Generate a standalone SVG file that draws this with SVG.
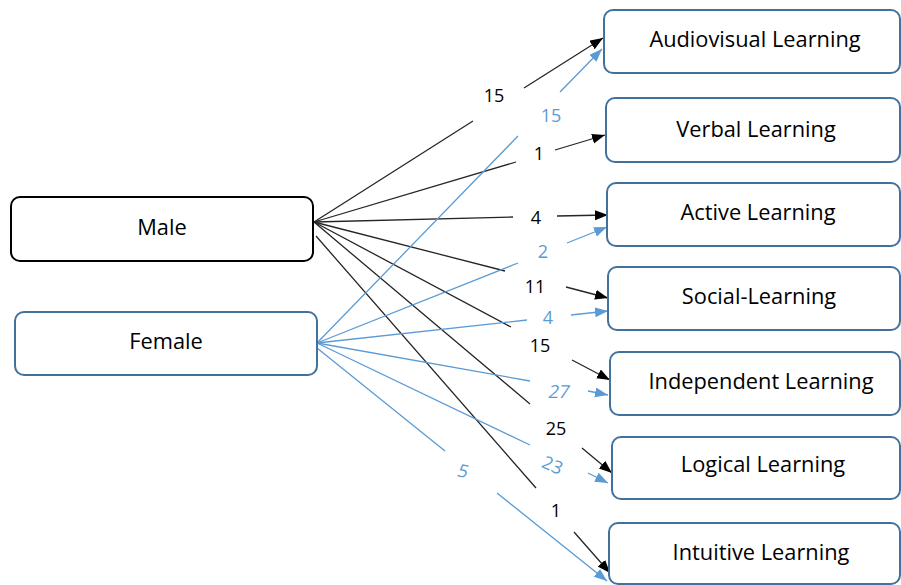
<svg xmlns="http://www.w3.org/2000/svg" width="901" height="585" viewBox="0 0 901 585">
<style>
.box{fill:#fff;stroke:#41719C;stroke-width:2}
.mbox{fill:#fff;stroke:#000;stroke-width:2}
.bt{font-family:"Open Sans","Liberation Sans",sans-serif;font-size:21.8px;fill:#000;text-anchor:middle}
.k{fill:none;stroke:#262626;stroke-width:1.3}
.b{fill:none;stroke:#5B9BD5;stroke-width:1.3}
.lk{font-family:"Open Sans","Liberation Sans",sans-serif;font-size:18px;fill:#000;text-anchor:middle}
.lb{font-family:"Open Sans","Liberation Sans",sans-serif;font-size:18px;fill:#5B9BD5;text-anchor:middle}
</style>
<defs>
<marker id="ak" markerUnits="userSpaceOnUse" markerWidth="14" markerHeight="12" refX="13" refY="5" orient="auto"><path d="M0,0 L13,5 L0,10 z" fill="#000"/></marker>
<marker id="ab" markerUnits="userSpaceOnUse" markerWidth="14" markerHeight="12" refX="13" refY="5" orient="auto"><path d="M0,0 L13,5 L0,10 z" fill="#5B9BD5"/></marker>
</defs>
<rect width="901" height="585" fill="#fff"/>
<g id="connectors">
<path class="k" marker-end="url(#ak)" d="M314,222 L473,121 M524,88 L603,38"/>
<path class="k" marker-end="url(#ak)" d="M314,222 L516,162 M555,150 L605,135"/>
<path class="k" marker-end="url(#ak)" d="M314,222 L513,217 M557,216 L608,215"/>
<path class="k" marker-end="url(#ak)" d="M314,222 L505,271 M566,287 L608,298"/>
<path class="k" marker-end="url(#ak)" d="M314,222 L511,327 M572,360 L610,380"/>
<path class="k" marker-end="url(#ak)" d="M314,222 L530,404 M582,448 L612,473"/>
<path class="k" marker-end="url(#ak)" d="M316,236 L536,488 M574,532 L610,573"/>
<path class="b" marker-end="url(#ab)" d="M317,343 L518,136 M560,92 L602,49"/>
<path class="b" marker-end="url(#ab)" d="M317,343 L518,263 M567,243 L607,227"/>
<path class="b" marker-end="url(#ab)" d="M317,343 L527,320 M571,315 L608,311"/>
<path class="b" marker-end="url(#ab)" d="M317,343 L530,381 M588,391 L608,395"/>
<path class="b" marker-end="url(#ab)" d="M317,343 L530,445 M588,473 L608,483"/>
<path class="b" marker-end="url(#ab)" d="M317,348 L445,451 M497,493 L607,581"/>
<text class="lk" x="494" y="102">15</text>
<text class="lb" x="551" y="122">15</text>
<text class="lk" x="539" y="160">1</text>
<text class="lk" x="536" y="224">4</text>
<text class="lb" x="543" y="258">2</text>
<text class="lk" x="535" y="293">11</text>
<text class="lb" x="548" y="324">4</text>
<text class="lk" x="540" y="352">15</text>
<text class="lb" transform="translate(558,398) skewX(-12)" x="0" y="0">27</text>
<text class="lk" x="556" y="435">25</text>
<text class="lb" transform="translate(550,471) rotate(24)" x="0" y="0">23</text>
<text class="lk" x="556" y="517">1</text>
<text class="lb" transform="translate(461,477) rotate(12) skewX(-8)" x="0" y="0">5</text>
</g>
<g id="male"><rect class="mbox" x="11" y="197" width="302" height="64" rx="9"/><text class="bt" x="162" y="235">Male</text></g>
<g id="female"><rect class="box" x="15" y="312" width="302" height="63" rx="9"/><text class="bt" x="166" y="349">Female</text></g>
<g id="audiovisual"><rect class="box" x="604" y="10" width="296" height="63" rx="9"/><text class="bt" x="755" y="47">Audiovisual Learning</text></g>
<g id="verbal"><rect class="box" x="606" y="98" width="294" height="64" rx="9"/><text class="bt" x="756" y="137">Verbal Learning</text></g>
<g id="active"><rect class="box" x="607" y="183" width="293" height="63" rx="9"/><text class="bt" x="758" y="220">Active Learning</text></g>
<g id="social"><rect class="box" x="608" y="267" width="292" height="63" rx="9"/><text class="bt" x="759" y="304">Social-Learning</text></g>
<g id="independent"><rect class="box" x="610" y="352" width="290" height="63" rx="9"/><text class="bt" x="761" y="389">Independent Learning</text></g>
<g id="logical"><rect class="box" x="612" y="437" width="288" height="62" rx="9"/><text class="bt" x="763" y="472">Logical Learning</text></g>
<g id="intuitive"><rect class="box" x="609" y="523" width="291" height="61" rx="9"/><text class="bt" x="761" y="560">Intuitive Learning</text></g>
</svg>
